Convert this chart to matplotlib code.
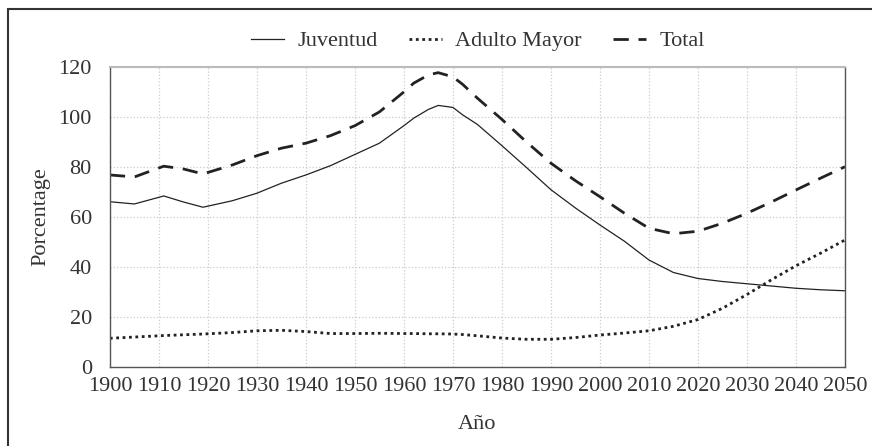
import matplotlib.pyplot as plt
from matplotlib.patches import Rectangle

years = [1900, 1905, 1911, 1915, 1919, 1925, 1930, 1935, 1940, 1945, 1950,
         1955, 1960, 1962, 1965, 1967, 1970, 1972, 1975, 1980, 1985, 1990, 1995, 2000,
         2005, 2010, 2015, 2020, 2025, 2030, 2035, 2040, 2045, 2050]

juventud = [66.1, 65.2, 68.4, 66.0, 63.9, 66.5, 69.5, 73.5, 76.8, 80.5, 85.0,
            89.5, 96.5, 99.5, 103.0, 104.6, 103.8, 100.8, 97.0, 88.5, 79.8, 70.9, 63.6, 56.8,
            50.3, 42.8, 37.8, 35.4, 34.2, 33.3, 32.4, 31.5, 30.9, 30.5]

adulto_mayor = [11.5, 12.0, 12.6, 12.9, 13.2, 13.8, 14.5, 14.7, 14.2, 13.4, 13.4,
                13.5, 13.4, 13.4, 13.3, 13.3, 13.2, 13.0, 12.5, 11.6, 11.1, 11.1, 11.8, 12.8,
                13.6, 14.5, 16.3, 19.0, 23.5, 29.0, 34.9, 40.5, 45.5, 50.8]

total = [76.8, 76.0, 80.3, 79.2, 77.2, 80.8, 84.5, 87.5, 89.5, 92.5, 96.5,
         102.0, 110.0, 113.5, 116.8, 117.7, 116.0, 113.0, 107.5, 99.0, 90.0, 81.5, 74.5, 68.1,
         61.5, 55.5, 53.3, 54.3, 57.5, 61.5, 66.0, 70.8, 75.5, 80.1]

xticks = list(range(1900, 2051, 10))
yticks = [0, 20, 40, 60, 80, 100, 120]

plt.rcParams['font.family'] = ['Liberation Serif', 'DejaVu Serif']
plt.rcParams['font.size'] = 16

fig = plt.figure(figsize=(8.72, 4.46), dpi=100)
ax = fig.add_axes([0.126, 0.177, 0.843, 0.673])

ink = "#222222"
ax.plot(years, juventud, color=ink, lw=0.9, label="Juventud")
ax.plot(years, adulto_mayor, color=ink, lw=2.0, linestyle=(0, (1, 1.3)), label="Adulto Mayor")
ax.plot(years, total, color=ink, lw=2.0, linestyle=(0, (5.5, 3.5)), label="Total")

ax.set_xlim(1900, 2050)
ax.set_ylim(0, 120)
ax.set_xticks(xticks)
ax.set_yticks(yticks)
ax.tick_params(length=0, colors="#333333")
ax.tick_params(axis="y", pad=13)
ax.tick_params(axis="x", pad=7)
ax.grid(True, color="#cccccc", linestyle=":", lw=0.9)

for side in ["left", "bottom", "right"]:
    ax.spines[side].set_color("#555555")
    ax.spines[side].set_linewidth(1.0)
ax.spines["top"].set_color("#bbbbbb")
ax.spines["top"].set_linewidth(1.5)

ax.set_xlabel("Año", color="#333333", labelpad=14)
ax.set_ylabel("Porcentage", color="#333333", labelpad=6)

fig.legend(loc="center", bbox_to_anchor=(0.548, 0.908), ncol=3, frameon=False,
           handlelength=1.5, columnspacing=1.4, handletextpad=0.6, labelcolor="#333333")

# outer frame, runs off the right and bottom edges like in the source image
fig.patches.append(Rectangle((0.0092, -0.02), 1.1, 1.0, transform=fig.transFigure,
                             fill=False, edgecolor="#333333", lw=1.5))

plt.savefig("out.png", dpi=100)
plt.close()
